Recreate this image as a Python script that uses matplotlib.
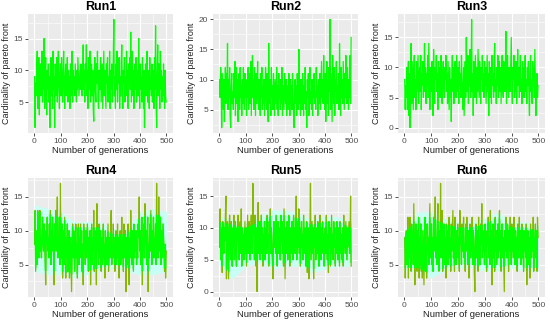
import matplotlib
matplotlib.use("Agg")
import matplotlib.pyplot as plt
from matplotlib.ticker import MultipleLocator

plt.rcParams["font.family"] = ["Liberation Sans", "DejaVu Sans"]

# generations sampled every 2 steps
GENERATIONS = list(range(1, 501, 2))

RUN1 = [9, 1, 8, 6, 10, 13, 4, 7, 12, 3, 9, 11, 6, 8, 13, 5, 10, 7, 15, 4, 9, 12, 6, 3, 10,
        7, 11, 5, 9, 1, 8, 12, 6, 10, 4, 13, 7, 9, 1, 11, 6, 8, 12, 5, 10, 13, 7, 4, 9, 11,
        6, 12, 8, 5, 10, 13, 7, 4, 9, 11, 6, 8, 12, 5, 10, 7, 9, 4, 11, 6, 8, 13, 5, 10, 7,
        9, 6, 11, 8, 5, 10, 7, 12, 9, 6, 8, 10, 7, 11, 8, 6, 9, 14, 7, 10, 5, 11, 8, 14, 6,
        10, 4, 12, 7, 9, 13, 5, 8, 11, 6, 10, 4, 2, 9, 12, 7, 5, 11, 8, 13, 6, 4, 10, 9, 7,
        12, 5, 8, 11, 4, 9, 13, 6, 10, 7, 4, 11, 8, 12, 5, 9, 6, 13, 4, 10, 7, 11, 5, 8, 12,
        18, 6, 9, 4, 11, 7, 13, 5, 10, 8, 12, 4, 9, 6, 11, 14, 7, 4, 10, 8, 12, 5, 9, 7, 13,
        6, 10, 4, 11, 8, 12, 7, 16, 5, 9, 13, 6, 10, 4, 8, 11, 7, 12, 5, 9, 10, 6, 15, 8, 4,
        11, 7, 9, 5, 12, 8, 4, 10, 1, 7, 11, 6, 9, 13, 5, 8, 10, 4, 12, 7, 9, 6, 11, 5, 8,
        10, 4, 12, 7, 17, 5, 1, 9, 14, 6, 11, 8, 4, 13, 7, 10, 5, 9, 6, 11, 8, 4, 10, 6, 5]

RUN2 = [10, 7, 12, 9, 2, 11, 8, 5, 10, 3, 9, 12, 6, 11, 8, 16, 5, 10, 7, 12, 4, 2, 9, 11, 6,
        8, 5, 11, 7, 13, 4, 9, 12, 6, 10, 3, 8, 11, 5, 12, 7, 9, 4, 10, 6, 12, 8, 5, 11, 7,
        9, 4, 10, 7, 12, 5, 8, 11, 6, 13, 4, 9, 14, 7, 10, 5, 12, 8, 4, 11, 6, 9, 13, 7, 5,
        10, 8, 4, 11, 7, 12, 5, 9, 6, 10, 4, 8, 12, 7, 5, 11, 9, 3, 16, 6, 10, 8, 4, 12, 7,
        9, 5, 11, 7, 4, 10, 8, 6, 12, 5, 9, 4, 11, 7, 8, 5, 10, 6, 12, 4, 9, 7, 5, 11, 8,
        6, 10, 4, 9, 7, 5, 11, 8, 4, 10, 6, 9, 5, 11, 7, 4, 2, 8, 10, 6, 9, 4, 11, 7, 5,
        15, 6, 9, 4, 10, 7, 5, 11, 8, 4, 9, 6, 12, 5, 8, 2, 10, 7, 11, 4, 9, 12, 6, 8, 5,
        10, 4, 9, 7, 11, 6, 8, 5, 12, 7, 9, 4, 10, 8, 6, 11, 5, 9, 13, 7, 10, 6, 14, 8, 5,
        11, 3, 9, 13, 6, 10, 4, 12, 8, 20, 5, 11, 7, 3, 14, 9, 6, 12, 4, 10, 8, 13, 6, 9, 7,
        11, 5, 16, 8, 4, 12, 7, 10, 6, 13, 9, 5, 11, 7, 14, 8, 6, 12, 9, 5, 10, 7, 14, 6, 17]

RUN3 = [8, 3, 7, 5, 10, 3, 8, 11, 2, 9, 0, 6, 14, 4, 11, 7, 3, 10, 12, 5, 8, 3, 11, 6, 9,
        12, 4, 8, 10, 6, 12, 3, 9, 7, 11, 5, 8, 14, 6, 10, 4, 9, 7, 12, 5, 14, 8, 3, 10, 6,
        9, 11, 5, 2, 13, 7, 4, 10, 8, 12, 6, 9, 3, 11, 7, 10, 5, 8, 12, 6, 4, 9, 11, 7, 5,
        10, 8, 12, 6, 9, 4, 11, 7, 3, 10, 5, 8, 1, 9, 12, 6, 10, 4, 8, 11, 7, 5, 12, 9, 6,
        10, 4, 11, 7, 9, 5, 12, 8, 6, 3, 10, 2, 7, 11, 5, 15, 9, 6, 12, 4, 10, 7, 13, 5, 8,
        18, 6, 9, 2, 11, 7, 5, 12, 8, 4, 10, 6, 13, 9, 5, 11, 7, 4, 10, 8, 12, 6, 9, 5, 11,
        7, 10, 4, 8, 12, 6, 9, 2, 11, 5, 8, 10, 4, 12, 7, 9, 5, 11, 14, 6, 8, 4, 10, 7, 12,
        5, 9, 11, 6, 10, 4, 8, 12, 7, 5, 11, 9, 6, 10, 16, 4, 8, 12, 7, 5, 10, 9, 6, 11, 15,
        7, 4, 10, 8, 12, 5, 9, 6, 11, 4, 8, 13, 7, 10, 5, 9, 12, 6, 8, 4, 11, 7, 10, 5, 9,
        12, 6, 8, 4, 10, 7, 11, 5, 2, 9, 12, 6, 8, 4, 11, 7, 10, 5, 13, 8, 2, 6, 9, 5, 7]

RUN4 = [8, 13, 4, 7, 10, 5, 13, 8, 6, 11, 13, 7, 9, 6, 10, 12, 8, 7, 11, 9, 6, 2, 10, 8, 12,
        7, 9, 6, 11, 8, 13, 5, 10, 7, 12, 9, 6, 2, 11, 8, 13, 7, 10, 15, 6, 9, 8, 12, 5, 17,
        9, 6, 11, 3, 8, 10, 5, 12, 7, 3, 9, 6, 11, 4, 8, 10, 3, 7, 9, 5, 1, 8, 11, 6, 10,
        7, 4, 9, 11, 6, 8, 3, 10, 11, 5, 9, 7, 11, 6, 10, 4, 8, 2, 11, 7, 9, 5, 10, 6, 8,
        11, 7, 4, 9, 6, 10, 2, 8, 11, 5, 9, 7, 13, 4, 10, 6, 8, 2, 14, 7, 9, 5, 11, 6, 8,
        10, 4, 9, 7, 5, 11, 6, 8, 3, 10, 7, 9, 5, 8, 11, 4, 7, 9, 6, 10, 13, 5, 8, 7, 11,
        6, 9, 4, 8, 10, 5, 7, 11, 6, 9, 3, 8, 10, 5, 7, 12, 6, 9, 4, 11, 8, 6, 10, 1, 7,
        9, 5, 11, 7, 2, 9, 6, 13, 8, 5, 10, 7, 4, 11, 6, 9, 7, 10, 5, 8, 6, 11, 9, 15, 7,
        10, 5, 8, 12, 2, 9, 7, 11, 6, 14, 8, 10, 5, 9, 12, 1, 8, 6, 11, 7, 13, 9, 5, 10, 8,
        12, 6, 9, 7, 11, 5, 17, 8, 10, 6, 15, 9, 7, 12, 5, 10, 8, 6, 11, 9, 7, 4, 8, 3, 7]

RUN5 = [7, 13, 5, 10, 8, 3, 11, 9, 6, 10, 8, 12, 15, 2, 9, 11, 6, 2, 10, 12, 7, 5, 11, 8, 4,
        10, 7, 12, 5, 9, 11, 6, 4, 10, 8, 12, 7, 5, 9, 11, 6, 13, 4, 10, 7, 9, 5, 8, 11, 6,
        10, 4, 8, 12, 6, 9, 11, 7, 5, 10, 12, 8, 6, 17, 9, 11, 5, 12, 7, 4, 10, 0, 8, 14, 6,
        9, 11, 5, 8, 12, 6, 10, 4, 9, 7, 11, 5, 8, 10, 6, 12, 7, 9, 4, 11, 8, 13, 6, 10, 7,
        5, 2, 9, 11, 7, 10, 6, 12, 8, 4, 9, 11, 6, 10, 7, 5, 12, 8, 11, 6, 9, 4, 13, 7, 2,
        10, 8, 6, 11, 5, 9, 12, 7, 4, 10, 8, 6, 11, 9, 5, 12, 7, 10, 6, 8, 15, 5, 9, 11, 7,
        13, 6, 10, 4, 8, 11, 7, 9, 5, 12, 6, 8, 10, 4, 9, 11, 3, 7, 10, 2, 6, 9, 17, 5, 8,
        11, 6, 10, 2, 9, 7, 12, 5, 8, 10, 6, 11, 7, 4, 9, 12, 8, 5, 10, 7, 11, 6, 9, 4, 8,
        10, 6, 12, 8, 5, 9, 3, 11, 7, 10, 4, 8, 12, 6, 9, 5, 11, 7, 10, 4, 8, 6, 11, 9, 5,
        10, 7, 4, 11, 8, 6, 9, 5, 10, 4, 12, 7, 9, 6, 11, 8, 5, 10, 7, 9, 11, 6, 8, 15, 4]

RUN6 = [9, 3, 7, 10, 5, 8, 12, 3, 10, 6, 12, 9, 4, 11, 7, 10, 5, 14, 8, 2, 9, 11, 6, 4, 10,
        7, 12, 3, 9, 5, 11, 4, 8, 3, 10, 6, 2, 9, 12, 4, 8, 3, 11, 7, 9, 5, 10, 14, 6, 8,
        11, 5, 9, 4, 12, 7, 10, 15, 6, 9, 5, 11, 14, 8, 4, 10, 7, 17, 6, 9, 13, 4, 10, 7, 11,
        5, 9, 3, 11, 7, 10, 5, 8, 12, 6, 9, 4, 11, 7, 10, 13, 6, 8, 4, 12, 9, 5, 10, 7, 11,
        6, 9, 4, 13, 8, 10, 5, 11, 7, 9, 12, 6, 8, 4, 11, 7, 12, 9, 5, 10, 3, 8, 11, 6, 9,
        7, 12, 5, 10, 8, 4, 1, 9, 11, 6, 8, 10, 4, 12, 7, 9, 5, 11, 8, 14, 6, 10, 7, 9, 5,
        11, 7, 9, 4, 10, 8, 12, 6, 9, 5, 13, 7, 10, 2, 8, 11, 6, 9, 4, 12, 7, 10, 5, 8, 11,
        6, 9, 13, 7, 10, 4, 8, 11, 6, 9, 5, 1, 10, 7, 12, 8, 6, 11, 9, 4, 10, 7, 12, 8, 5,
        11, 7, 9, 6, 12, 8, 5, 10, 7, 9, 4, 11, 8, 6, 12, 7, 10, 5, 9, 11, 6, 8, 4, 10, 7,
        9, 6, 11, 2, 8, 10, 7, 5, 9, 3, 11, 8, 6, 10, 7, 12, 4, 9, 8, 11, 6, 10, 4, 12, 9]

# pale cyan ribbon in the lower runs, knots every 50 generations
BAND_X = [0, 50, 100, 150, 200, 250, 300, 350, 400, 450, 500]
BAND4_HI = [13, 12.5, 12, 10.5, 10.5, 10.5, 9.5, 9.5, 12, 12.5, 12]
BAND4_LO = [4, 3.5, 3.5, 3, 3.5, 4, 4.5, 4, 3.5, 3.5, 4]
BAND5_HI = [11, 10.5, 10, 11, 12, 12, 11.5, 10.5, 11, 11, 10]
BAND5_LO = [4, 2, 4, 4.5, 3.5, 4, 4, 3, 3.5, 4, 4]
BAND6_HI = [9.5, 12, 12, 11, 10.5, 10.5, 11, 12, 10.5, 10.5, 10]
BAND6_LO = [4, 4, 3, 4, 4.5, 4.5, 4, 4, 4.5, 4, 4]

TITLES = ["Run1", "Run2", "Run3", "Run4", "Run5", "Run6"]
RUNS = [RUN1, RUN2, RUN3, RUN4, RUN5, RUN6]
BANDS = [None, None, None, (BAND4_LO, BAND4_HI), (BAND5_LO, BAND5_HI), (BAND6_LO, BAND6_HI)]

W, H = 550, 328
# axes boxes in pixels: left, top, right, bottom
BOXES = [(28, 14, 173, 133), (213, 14, 358, 133), (398, 14, 545, 133),
         (28, 178, 173, 297), (213, 178, 358, 297), (398, 178, 545, 297)]

GREEN = "#00ff00"
OLIVE = "#86b800"
CYAN = "#c8fff4"

fig = plt.figure(figsize=(W / 100, H / 100), dpi=100)

for title, run, band, (l, t, r, b) in zip(TITLES, RUNS, BANDS, BOXES):
    ax = fig.add_axes([l / W, 1 - b / H, (r - l) / W, (b - t) / H])
    ax.set_facecolor("#ebebeb")
    for s in ax.spines.values():
        s.set_visible(False)

    if band is None:
        ax.plot(GENERATIONS, run, color=GREEN, lw=0.9, zorder=3)
    else:
        lo, hi = band
        ax.fill_between(BAND_X, lo, [v + 0.8 for v in hi], color=CYAN, lw=0, zorder=2)
        ax.plot(GENERATIONS, run, color=OLIVE, lw=0.9, zorder=3)
        # the dense core of the line shows bright green
        inner = ax.fill_between(BAND_X, [v + 0.5 for v in lo], hi, color="none", lw=0)
        top = ax.plot(GENERATIONS, run, color=GREEN, lw=0.9, zorder=4)[0]
        top.set_clip_path(inner.get_paths()[0], ax.transData)

    ymin, ymax = min(run), max(run)
    pad = (ymax - ymin) * 0.05
    ax.set_ylim(ymin - pad, ymax + pad)
    ax.set_xlim(1 - 499 * 0.05, 500 + 499 * 0.05)

    ax.xaxis.set_major_locator(MultipleLocator(100))
    ax.xaxis.set_minor_locator(MultipleLocator(50))
    ax.yaxis.set_major_locator(MultipleLocator(5))
    ax.yaxis.set_minor_locator(MultipleLocator(2.5))
    ax.grid(which="major", color="white", lw=0.8, zorder=1)
    ax.grid(which="minor", color="white", lw=0.4, zorder=1)
    ax.set_axisbelow(True)
    ax.tick_params(which="major", length=2, width=0.6, color="#333333",
                   labelsize=6, labelcolor="#4d4d4d", pad=1.5)
    ax.tick_params(which="minor", length=0)

    ax.set_title(title, fontsize=9, fontweight="bold", pad=3)
    ax.set_xlabel("Number of generations", fontsize=6.8, labelpad=1, color="#222222")
    ax.set_ylabel("Cardinality of pareto front", fontsize=6.5, labelpad=2, color="#222222")

fig.savefig("out.png", dpi=100)
